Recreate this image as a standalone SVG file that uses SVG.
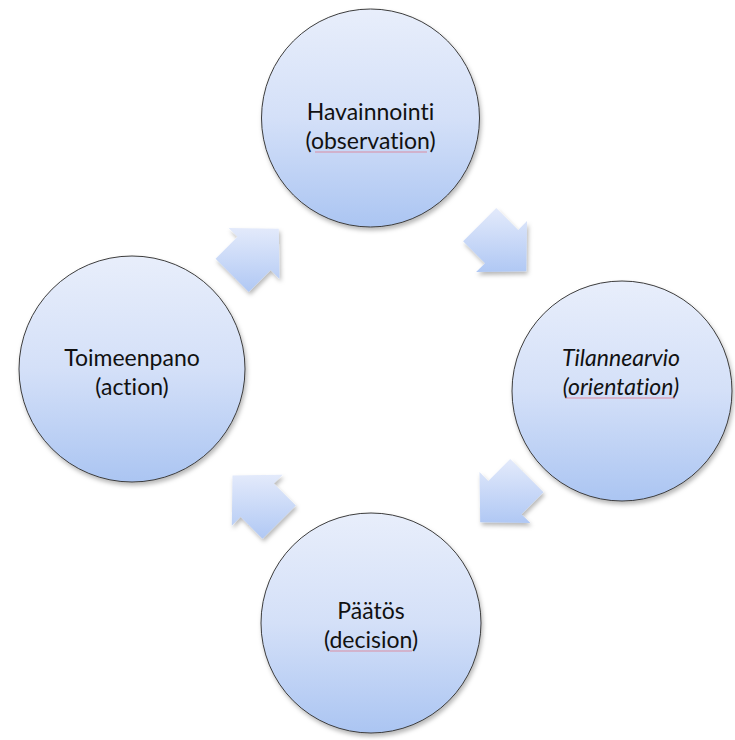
<svg xmlns="http://www.w3.org/2000/svg" width="735" height="740" viewBox="0 0 735 740">
  <defs>
    <linearGradient id="circGrad" x1="0" y1="0" x2="0" y2="1">
      <stop offset="0" stop-color="#e8eefb"/>
      <stop offset="0.5" stop-color="#d4e0f8"/>
      <stop offset="1" stop-color="#abc5f2"/>
    </linearGradient>
    <linearGradient id="arrGrad" x1="0" y1="0" x2="0" y2="1">
      <stop offset="0" stop-color="#e3eafb"/>
      <stop offset="1" stop-color="#b0c8f4"/>
    </linearGradient>
    <filter id="shadow" x="-20%" y="-20%" width="140%" height="140%">
      <feDropShadow dx="1.5" dy="3" stdDeviation="2" flood-color="#000" flood-opacity="0.28"/>
    </filter>
  </defs>
  <style>
    .node { fill: url(#circGrad); stroke: #3c3c3c; stroke-width: 1; filter: url(#shadow); }
    .arrow { fill: url(#arrGrad); stroke: none; filter: url(#shadow); }
    .label { font-family: Lato, "Liberation Sans", sans-serif; font-size: 23px; fill: #111; text-anchor: middle; font-variant-ligatures: none; font-feature-settings: "liga" 0, "dlig" 0; }
    .it { font-style: italic; }
    .spell { stroke: #e07a90; stroke-width: 1; fill: none; opacity: 0.8; }
  </style>
  <rect width="735" height="740" fill="#ffffff"/>

  <g id="connectors">
    <polygon class="arrow" points="215.6,258.7 237.5,236.8 228.6,228.0 278.8,228.7 279.5,278.9 270.7,270.0 248.8,292.0"/>
    <polygon class="arrow" points="496.3,208.1 518.2,230.0 527.0,221.1 526.3,271.3 476.1,272.0 485.0,263.2 463.1,241.3"/>
    <polygon class="arrow" points="543.5,492.3 521.5,514.2 530.4,523.0 480.2,522.3 479.5,472.1 488.3,481.0 510.2,459.1"/>
    <polygon class="arrow" points="262.5,538.8 240.6,516.8 231.8,525.7 232.5,475.5 282.7,474.8 273.8,483.6 295.8,505.5"/>
  </g>

  <g id="observation">
    <circle class="node" cx="370.5" cy="118" r="109"/>
    <text class="label" x="370.5" y="120">Havainnointi</text>
    <text class="label" x="370.5" y="149">(observation)</text>
    <line class="spell" x1="315" y1="152" x2="427" y2="152"/>
  </g>

  <g id="orientation">
    <circle class="node" cx="622" cy="391" r="110"/>
    <text class="label it" x="621" y="366">Tilannearvio</text>
    <text class="label it" x="621" y="395">(orientation)</text>
    <line class="spell" x1="566" y1="398" x2="675" y2="398"/>
  </g>

  <g id="decision">
    <circle class="node" cx="371" cy="623" r="110"/>
    <text class="label" x="371" y="619">Päätös</text>
    <text class="label" x="371" y="648">(decision)</text>
    <line class="spell" x1="330" y1="651" x2="412" y2="651"/>
  </g>

  <g id="action">
    <circle class="node" cx="132" cy="369" r="113"/>
    <text class="label" x="132" y="366">Toimeenpano</text>
    <text class="label" x="132" y="395">(action)</text>
  </g>
</svg>
